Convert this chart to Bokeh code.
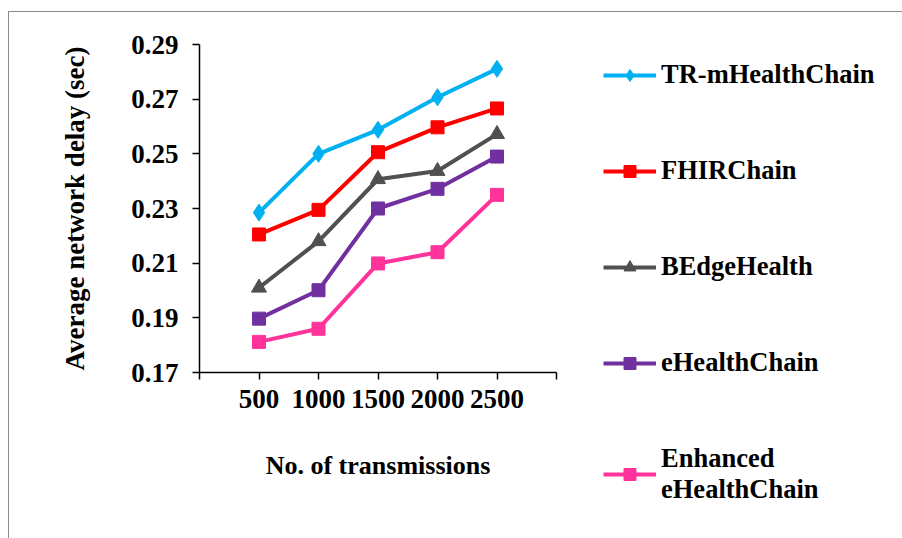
from bokeh.plotting import figure
from bokeh.models import FixedTicker, Legend, LegendItem
from bokeh.embed import file_html
from bokeh.resources import INLINE

x_values = [500, 1000, 1500, 2000, 2500]
x_tick_labels = ["500", "1000", "1500", "2000", "2500"]
y_ticks = [0.17, 0.19, 0.21, 0.23, 0.25, 0.27, 0.29]

tr_mhealthchain = [0.2285, 0.2500, 0.2588, 0.2707, 0.2811]
fhirchain = [0.2205, 0.2295, 0.2506, 0.2597, 0.2666]
bedgehealth = [0.2010, 0.2180, 0.2407, 0.2437, 0.2572]
ehealthchain = [0.1897, 0.2001, 0.2300, 0.2372, 0.2490]
enhanced_ehealthchain = [0.1812, 0.1860, 0.2099, 0.2140, 0.2350]

series = [
    ("TR-mHealthChain", tr_mhealthchain, "#00B0F0", "diamond", 17),
    ("FHIRChain", fhirchain, "#FF0000", "square", 13),
    ("BEdgeHealth", bedgehealth, "#505050", "triangle", 15),
    ("eHealthChain", ehealthchain, "#7030A0", "square", 13),
    ("Enhanced\neHealthChain", enhanced_ehealthchain, "#FF3399", "square", 13),
]

FONT = "Liberation Serif"

p = figure(width=894, height=527, frame_width=357, frame_height=328,
           output_backend="svg", toolbar_location=None,
           x_range=(0, 3000), y_range=(0.17, 0.29),
           min_border_left=190, min_border_right=347, min_border_top=32, min_border_bottom=167)
p.margin = (11, 0, 0, 8)
p.styles = {"border-top": "1.5px solid #8C8C8C", "border-left": "1.5px solid #8C8C8C"}
p.outline_line_color = None
p.xgrid.visible = False
p.ygrid.visible = False
p.background_fill_color = "white"
p.border_fill_color = "white"

items = []
for name, vals, color, marker, size in series:
    r1 = p.line(x_values, vals, line_color=color, line_width=4)
    r2 = p.scatter(x_values, vals, marker=marker, size=size, fill_color=color, line_color=color)
    items.append(LegendItem(label=name, renderers=[r1, r2]))

xt = [0] + x_values + [3000]
p.xaxis.ticker = FixedTicker(ticks=xt)
overrides = {0: "", 3000: ""}
for v, lab in zip(x_values, x_tick_labels):
    overrides[v] = lab
p.xaxis.major_label_overrides = overrides
p.yaxis.ticker = FixedTicker(ticks=y_ticks)
p.yaxis.major_label_overrides = {t: f"{t:.2f}" for t in y_ticks}

for ax in (p.xaxis[0], p.yaxis[0]):
    ax.axis_line_color = "black"
    ax.axis_line_width = 1.5
    ax.major_tick_line_color = "black"
    ax.major_tick_line_width = 1.5
    ax.major_tick_in = 0
    ax.major_tick_out = 7
    ax.minor_tick_line_color = None
    ax.major_label_text_font = FONT
    ax.major_label_text_font_style = "bold"
    ax.major_label_text_font_size = "27px"
    ax.major_label_text_color = "black"
    ax.axis_label_text_font = FONT
    ax.axis_label_text_font_style = "bold"
    ax.axis_label_text_font_size = "26px"
    ax.axis_label_text_color = "black"

p.xaxis.axis_label = "No. of transmissions"
p.xaxis.major_label_standoff = 10
p.xaxis.axis_label_standoff = 40
p.yaxis.axis_label = "Average network delay (sec)"
p.yaxis.axis_label_text_font_size = "27px"
p.yaxis.major_label_standoff = 14
p.yaxis.axis_label_standoff = 38

legend = Legend(items=items, location=(47, -133))
legend.label_text_font = FONT
legend.label_text_font_style = "bold"
legend.label_text_font_size = "26.5px"
legend.label_text_color = "black"
legend.glyph_width = 53
legend.glyph_height = 30
legend.label_height = 30
legend.label_standoff = 5
legend.spacing = 65
legend.padding = 0
legend.margin = 0
legend.border_line_color = None
legend.background_fill_alpha = 0
p.add_layout(legend, "right")

open("out.html", "w").write(file_html(p, INLINE))
